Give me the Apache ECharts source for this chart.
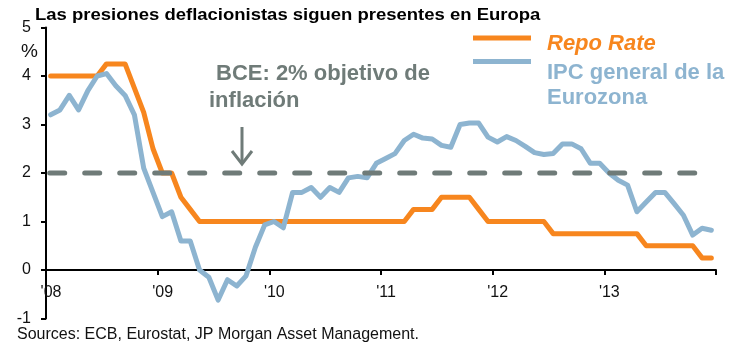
<!DOCTYPE html>
<html>
<head>
<meta charset="utf-8">
<script src="https://cdn.jsdelivr.net/npm/echarts@6/dist/echarts.min.js"></script>
<style>
html,body{margin:0;padding:0;background:#fff;}
#c{width:739px;height:354px;}
</style>
</head>
<body>
<div id="c"></div>
<script>
// Months since Jan 2008 (monthly data, Jan 2008 .. Dec 2013)
const yearTickLabels = ["'08", "'09", "'10", "'11", "'12", "'13", ""];
// Repo Rate (ECB), end of month, %
const repoRate = [
  4, 4, 4, 4, 4, 4, 4.25, 4.25, 4.25, 3.75, 3.25, 2.5,
  2, 2, 1.5, 1.25, 1, 1, 1, 1, 1, 1, 1, 1,
  1, 1, 1, 1, 1, 1, 1, 1, 1, 1, 1, 1,
  1, 1, 1, 1.25, 1.25, 1.25, 1.5, 1.5, 1.5, 1.5, 1.25, 1,
  1, 1, 1, 1, 1, 1, 0.75, 0.75, 0.75, 0.75, 0.75, 0.75,
  0.75, 0.75, 0.75, 0.75, 0.5, 0.5, 0.5, 0.5, 0.5, 0.5, 0.25, 0.25
];
// IPC general de la Eurozona (HICP y/y), %
const ipc = [
  3.2, 3.3, 3.6, 3.3, 3.7, 4.0, 4.05, 3.8, 3.6, 3.2, 2.1, 1.6,
  1.1, 1.2, 0.6, 0.6, 0.0, -0.15, -0.62, -0.2, -0.33, -0.12, 0.47, 0.93,
  1.0, 0.87, 1.6, 1.6, 1.7, 1.5, 1.7, 1.6, 1.9, 1.93, 1.9, 2.2,
  2.3, 2.4, 2.67, 2.8, 2.72, 2.7, 2.57, 2.53, 3.0, 3.03, 3.03, 2.74,
  2.64, 2.75, 2.67, 2.55, 2.42, 2.38, 2.4, 2.6, 2.6, 2.5, 2.2, 2.2,
  2.0, 1.85, 1.75, 1.2, 1.4, 1.6, 1.6, 1.37, 1.13, 0.72, 0.86, 0.82
];
const targetRate = 2;
const yTicks = [-1, 0, 1, 2, 3, 4, 5];

const pointOffset = 0.5;
const repoData = repoRate.map((v, i) => [i + pointOffset, v]);
const ipcData = ipc.map((v, i) => [i + pointOffset, v]);
const targetData = [[0.4, targetRate], [71.8, targetRate]];

const FONT = "'Liberation Sans', Arial, sans-serif";
const chart = echarts.init(document.getElementById('c'), null, {renderer: 'canvas'});
chart.setOption({
  animation: false,
  backgroundColor: '#ffffff',
  grid: {left: 46, right: 23, top: 27.5, bottom: 35.5, containLabel: false},
  xAxis: {
    type: 'value', min: 0, max: 72, interval: 12,
    axisLine: {show: true, onZero: true, lineStyle: {color: '#000', width: 2}},
    axisTick: {show: true, length: 5, lineStyle: {color: '#000', width: 2}},
    axisLabel: {
      color: '#111', fontFamily: FONT, fontSize: 16, margin: -34,
      padding: [0, 0, 0, 10],
      formatter: v => yearTickLabels[Math.round(v / 12)] || ''
    },
    splitLine: {show: false}
  },
  yAxis: {
    type: 'value', min: -1, max: 5, interval: 1,
    axisLine: {show: true, onZero: false, lineStyle: {color: '#000', width: 2}},
    axisTick: {show: true, length: 5, lineStyle: {color: '#000', width: 2}},
    axisLabel: {color: '#111', fontFamily: FONT, fontSize: 16, margin: 15,
      formatter: v => yTicks.includes(v) ? String(v) : ''},
    splitLine: {show: false}
  },
  series: [
    {type: 'line', name: 'Repo Rate', data: repoData, showSymbol: false,
     lineStyle: {color: '#F7861E', width: 5, cap: 'round', join: 'round'}, z: 3},
    {type: 'line', name: 'IPC general de la Eurozona', data: ipcData, showSymbol: false,
     lineStyle: {color: '#8DB4D0', width: 5, cap: 'round', join: 'round'}, z: 4},
    {type: 'line', name: 'BCE objetivo', data: targetData, showSymbol: false,
     lineStyle: {color: '#6F7B78', width: 5, type: [15, 20], cap: 'round'}, z: 5}
  ],
  graphic: [
    {type: 'text', x: 35, y: 8, scaleX: 1.155, style: {text: 'Las presiones deflacionistas siguen presentes en Europa',
      font: "bold 16px " + FONT, fill: '#000'}},
    {type: 'text', left: 21, top: 42, style: {text: '%', font: "19px " + FONT, fill: '#111'}},
    {type: 'text', left: 17, top: 327, style: {text: 'Sources: ECB, Eurostat, JP Morgan Asset Management.',
      font: "16px " + FONT, fill: '#111'}},
    {type: 'text', left: 216, top: 63, style: {text: 'BCE: 2% objetivo de',
      font: "bold 22px " + FONT, fill: '#6F7B78'}},
    {type: 'text', left: 209, top: 90, style: {text: 'inflación',
      font: "bold 22px " + FONT, fill: '#6F7B78'}},
    {type: 'line', shape: {x1: 242, y1: 127, x2: 242, y2: 164}, style: {stroke: '#6F7B78', lineWidth: 3}},
    {type: 'polyline', shape: {points: [[232, 151], [242, 164], [252, 151]]}, style: {stroke: '#6F7B78', lineWidth: 3, fill: null}},
    {type: 'rect', shape: {x: 473, y: 35.5, width: 58, height: 5}, style: {fill: '#F7861E'}},
    {type: 'rect', shape: {x: 473, y: 59, width: 58, height: 5}, style: {fill: '#8DB4D0'}},
    {type: 'text', left: 547, top: 33, style: {text: 'Repo Rate', font: "italic bold 22px " + FONT, fill: '#F7861E'}},
    {type: 'text', left: 547, top: 62, style: {text: 'IPC general de la', font: "bold 22px " + FONT, fill: '#8DB4D0'}},
    {type: 'text', left: 547, top: 87, style: {text: 'Eurozona', font: "bold 22px " + FONT, fill: '#8DB4D0'}}
  ]
});
</script>
</body>
</html>
